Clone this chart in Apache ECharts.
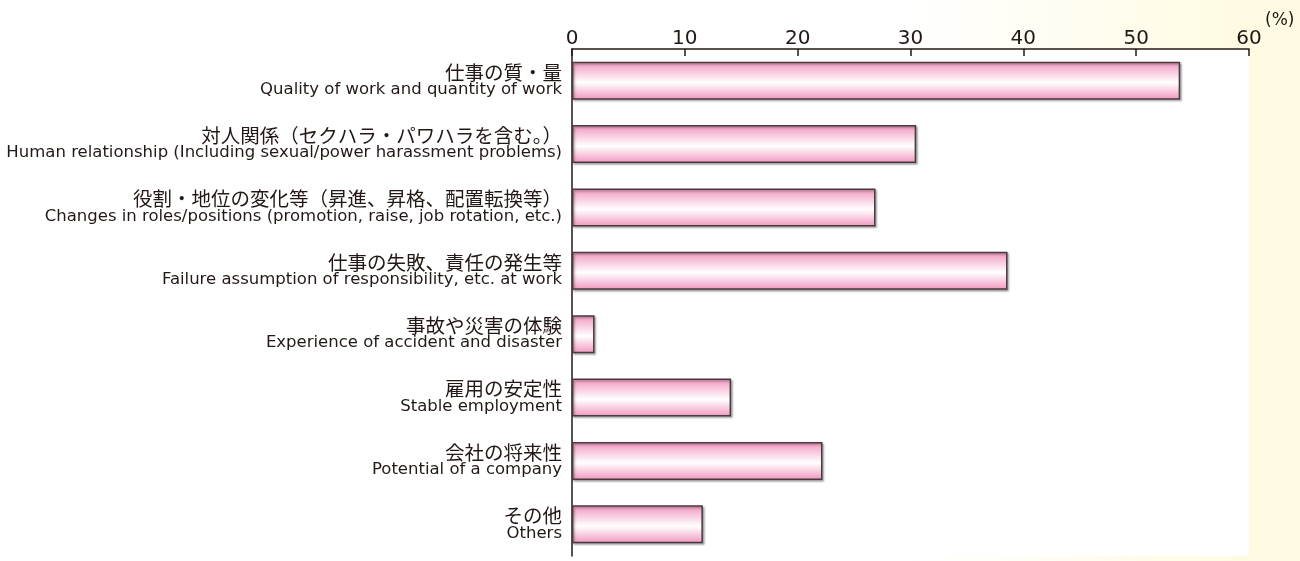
<!DOCTYPE html>
<html>
<head>
<meta charset="utf-8">
<style>
  html, body { margin: 0; padding: 0; background: #fff; }
  #chart { width: 1300px; height: 561px; }
</style>
<script src="https://cdn.jsdelivr.net/npm/echarts@6/dist/echarts.min.js"></script>
</head>
<body>
<div id="chart"></div>
<script>
// Reasons for stress at work (%), top to bottom
const labelsJa = [
  '仕事の質・量',
  '対人関係（セクハラ・パワハラを含む。）',
  '役割・地位の変化等（昇進、昇格、配置転換等）',
  '仕事の失敗、責任の発生等',
  '事故や災害の体験',
  '雇用の安定性',
  '会社の将来性',
  'その他'
];
const labelsEn = [
  'Quality of work and quantity of work',
  'Human relationship (Including sexual/power harassment problems)',
  'Changes in roles/positions (promotion, raise, job rotation, etc.)',
  'Failure assumption of responsibility, etc. at work',
  'Experience of accident and disaster',
  'Stable employment',
  'Potential of a company',
  'Others'
];
const values = [53.9, 30.5, 26.9, 38.6, 2.0, 14.1, 22.2, 11.6];
const axisMin = 0, axisMax = 60, axisStep = 10;
const unitLabel = '(%)';

const categories = labelsJa.map((ja, i) => ja + '\n' + labelsEn[i]);

const ink = '#231815';
const chart = echarts.init(document.getElementById('chart'));

chart.setOption({
  animation: false,
  backgroundColor: new echarts.graphic.LinearGradient(0, 0, 1, 0, [
    { offset: 0, color: '#ffffff' },
    { offset: 0.70, color: '#ffffff' },
    { offset: 0.95, color: '#fffbe3' },
    { offset: 1, color: '#fffbe3' }
  ]),
  grid: {
    left: 572, right: 51, top: 49, bottom: 5,
    show: true, backgroundColor: '#ffffff', borderWidth: 0
  },
  xAxis: {
    type: 'value',
    position: 'top',
    min: axisMin, max: axisMax, interval: axisStep,
    axisLine: { show: true, lineStyle: { color: ink, width: 1.5 } },
    axisTick: { show: true, inside: true, length: 7, lineStyle: { color: ink, width: 1.5 } },
    axisLabel: { color: ink, fontSize: 20, margin: 0, fontFamily: 'DejaVu Sans' },
    splitLine: { show: false }
  },
  yAxis: {
    type: 'category',
    inverse: true,
    data: categories,
    axisLine: { show: true, lineStyle: { color: ink, width: 1.5 } },
    axisTick: { show: false },
    axisLabel: {
      margin: 10,
      align: 'right',
      formatter: function (v) {
        const parts = v.split('\n');
        return '{ja|' + parts[0] + '}\n{en|' + parts[1] + '}';
      },
      rich: {
        ja: { fontSize: 19.5, lineHeight: 18, color: ink, fontFamily: 'Noto Sans CJK JP', align: 'right' },
        en: { fontSize: 16.5, lineHeight: 17, color: ink, fontFamily: 'DejaVu Sans', align: 'right' }
      }
    }
  },
  graphic: [{
    type: 'text',
    left: 1265, top: 12,
    style: { text: unitLabel, fill: ink, fontSize: 17, fontFamily: 'DejaVu Sans' }
  }],
  series: [{
    type: 'bar',
    data: values,
    barWidth: 38,
    itemStyle: {
      color: new echarts.graphic.LinearGradient(0, 0, 0, 1, [
        { offset: 0, color: '#f197c0' },
        { offset: 0.55, color: '#ffffff' },
        { offset: 1, color: '#f197c0' }
      ]),
      borderColor: '#4a3a3e',
      borderWidth: 1.5,
      shadowColor: 'rgba(0,0,0,0.3)',
      shadowBlur: 2,
      shadowOffsetX: 1.5,
      shadowOffsetY: 1.5
    }
  }]
});
</script>
</body>
</html>
